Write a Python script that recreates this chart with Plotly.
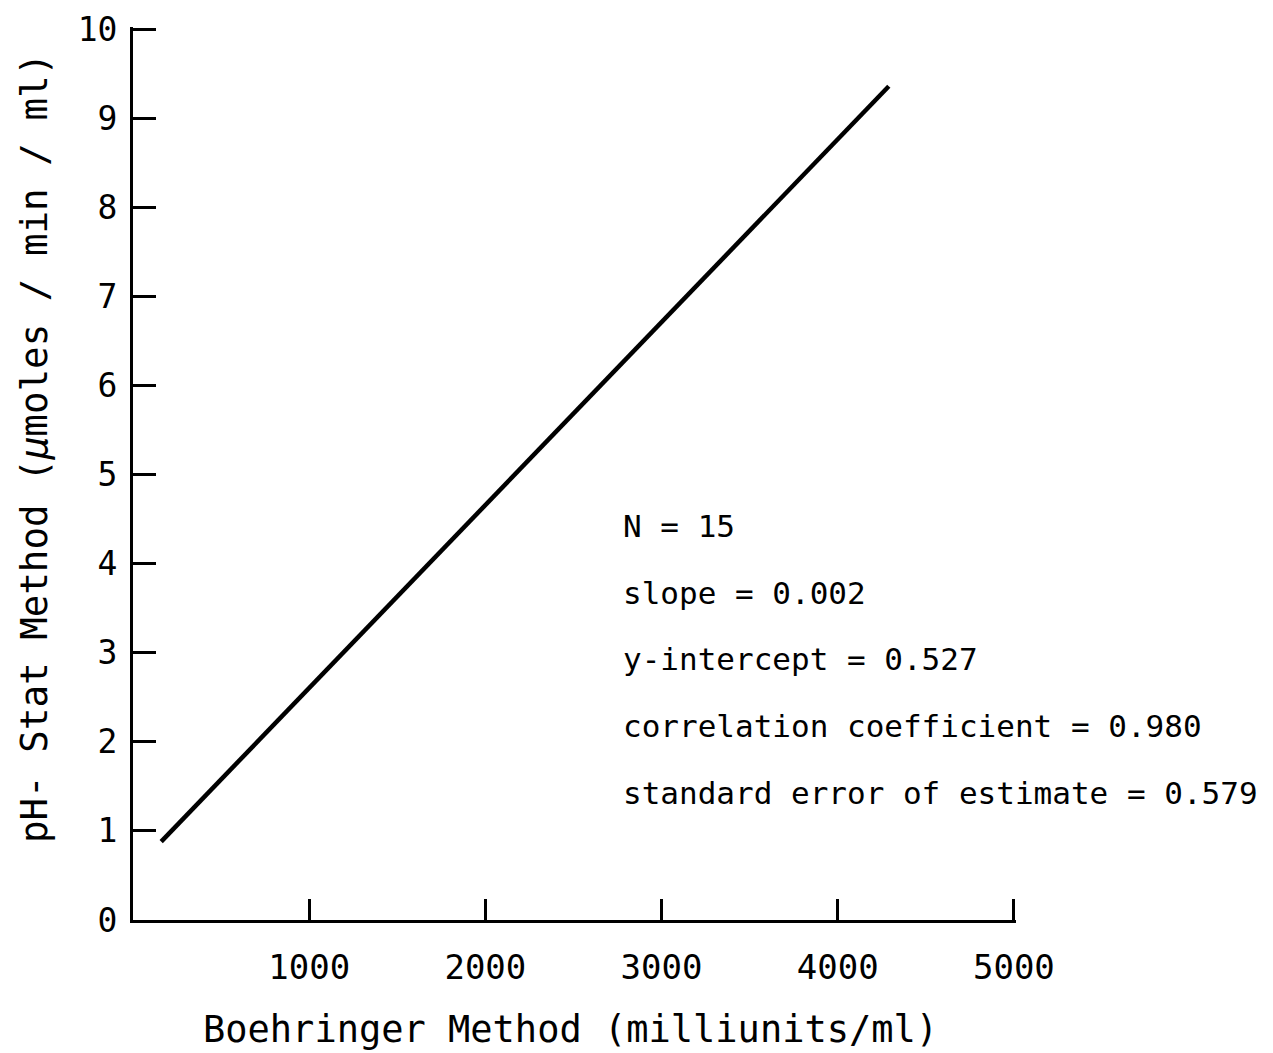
import plotly.graph_objects as go

# Regression line endpoints
line_x = [160, 4290]
line_y = [0.88, 9.36]

x_ticks = [1000, 2000, 3000, 4000, 5000]
x_tick_labels = ["1000", "2000", "3000", "4000", "5000"]
y_ticks = list(range(0, 11))
y_tick_labels = [str(v) for v in y_ticks]

stats_text = [
    "N = 15",
    "slope = 0.002",
    "y-intercept = 0.527",
    "correlation coefficient = 0.980",
    "standard error of estimate = 0.579",
]
stats_y = [4.42, 3.67, 2.93, 2.18, 1.43]
stats_x = 2768

x_title = "Boehringer Method (milliunits/ml)"
y_title = "pH- Stat Method (<i>μ</i>moles / min / ml)"

FONT = "DejaVu Sans Mono"

fig = go.Figure()
fig.add_trace(go.Scatter(x=line_x, y=line_y, mode="lines",
                         line=dict(color="black", width=4.5), showlegend=False,
                         hoverinfo="skip"))

for t, yv in zip(stats_text, stats_y):
    fig.add_annotation(x=stats_x, y=yv, xref="x", yref="y", text=t,
                       showarrow=False, xanchor="left", yanchor="middle",
                       font=dict(family=FONT, size=31, color="black"))

fig.add_annotation(x=0.496, y=-0.123, xref="paper", yref="paper", text=x_title,
                   showarrow=False, xanchor="center", yanchor="middle",
                   font=dict(family=FONT, size=37, color="black"))
fig.add_annotation(x=-0.112, y=0.5286, xref="paper", yref="paper", text=y_title,
                   showarrow=False, xanchor="center", yanchor="middle", textangle=-90,
                   font=dict(family=FONT, size=37.5, color="black"))

fig.update_layout(
    width=1265, height=1045,
    paper_bgcolor="white", plot_bgcolor="white",
    margin=dict(l=125, r=257, t=19, b=133),
    showlegend=False,
    font=dict(family=FONT, color="black"),
)
fig.update_xaxes(
    range=[0, 5012], showgrid=False, zeroline=False, automargin=False,
    showline=True, linecolor="black", linewidth=3,
    ticks="inside", ticklen=21, tickwidth=3, tickcolor="black",
    tickvals=x_ticks, ticktext=x_tick_labels,
    tickfont=dict(family=FONT, size=34, color="black"),
    ticklabelstandoff=15,
)
fig.update_yaxes(
    range=[0, 10.025], showgrid=False, zeroline=False, automargin=False,
    showline=True, linecolor="black", linewidth=3,
    ticks="inside", ticklen=23, tickwidth=3, tickcolor="black",
    tickvals=y_ticks, ticktext=y_tick_labels,
    tickfont=dict(family=FONT, size=33, color="black"),
    ticklabelstandoff=6,
)

fig.write_html("out.html")
